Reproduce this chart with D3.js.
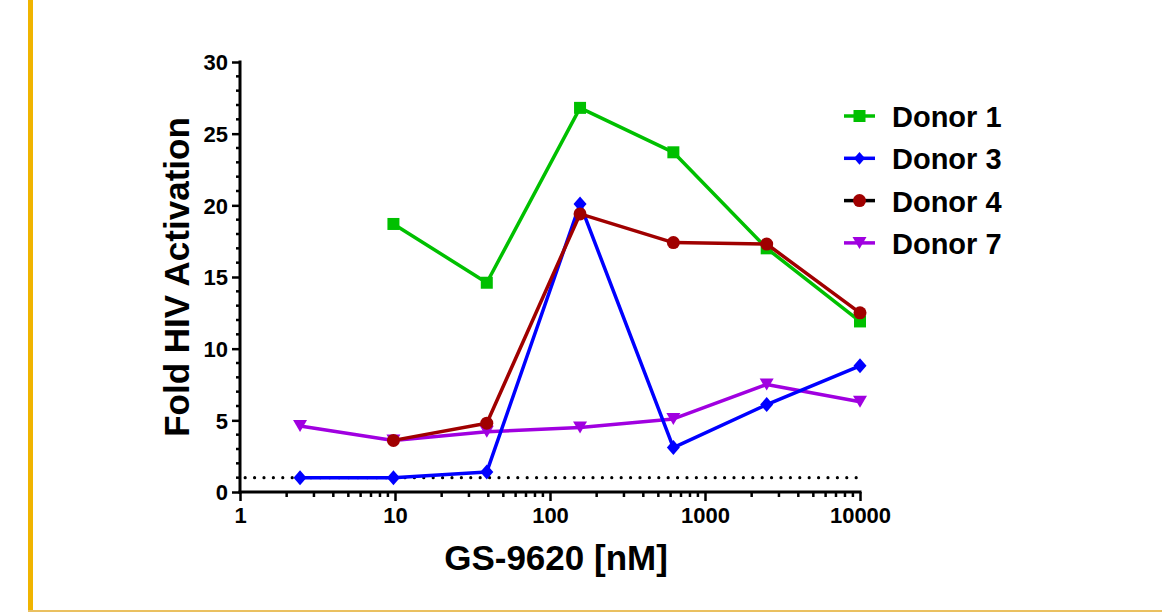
<!DOCTYPE html>
<html><head><meta charset="utf-8">
<script src="https://cdn.jsdelivr.net/npm/d3@7"></script>
<style>body{margin:0;background:#fff;}svg{display:block;font-family:"Liberation Sans",Arial,sans-serif;font-weight:bold;}</style>
</head><body><svg id="c" width="1162" height="612"></svg>
<script>
const concentrations = [2.44, 9.77, 39.1, 156.25, 625, 2500, 10000];
const donor1 = [null, 18.7, 14.6, 26.8, 23.7, 17.0, 11.9];
const donor3 = [1.0, 1.0, 1.4, 20.1, 3.1, 6.1, 8.8];
const donor4 = [null, 3.6, 4.8, 19.4, 17.4, 17.3, 12.5];
const donor7 = [4.6, 3.6, 4.2, 4.5, 5.1, 7.5, 6.3];
const seriesNames = ["Donor 1", "Donor 3", "Donor 4", "Donor 7"];
const seriesValues = [donor1, donor3, donor4, donor7];
const xTickValues = [1, 10, 100, 1000, 10000];
const yTickValues = [0, 5, 10, 15, 20, 25, 30];
const baseline = 1;

const colors = ["#00c000", "#0000ff", "#a00000", "#a000e0"];
const legendLineColors = ["#00c000", "#0000ff", "#000000", "#a000e0"];
const symbols = ["square", "diamond", "circle", "triangle"];
const FONT = '"Liberation Sans", Arial, sans-serif';

const svg = d3.select("#c");
svg.append("rect").attr("x",28).attr("y",0).attr("width",5).attr("height",612).attr("fill","#f0b400");
svg.append("rect").attr("x",28).attr("y",610).attr("width",1134).attr("height",2).attr("fill","#eac060");

const x = d3.scaleLog().domain([1,10000]).range([240,860]);
const y = d3.scaleLinear().domain([0,30]).range([492,62]);

// dotted baseline
svg.append("line").attr("x1",x(1.08)).attr("x2",x(9600)).attr("y1",y(baseline)).attr("y2",y(baseline))
  .attr("stroke","#000").attr("stroke-width",3.2).attr("stroke-linecap","round").attr("stroke-dasharray","0 9.4");

// y axis
const yAxis = d3.axisLeft(y).tickValues(yTickValues).tickSize(8).tickPadding(4);
const gy = svg.append("g").attr("transform","translate(240,0)").call(yAxis).attr("font-family",FONT);
gy.select(".domain").remove();
gy.selectAll(".tick line").attr("stroke","#000").attr("stroke-width",2.5);
gy.selectAll(".tick text").attr("font-size",22).attr("font-weight","bold").attr("font-family",FONT).attr("fill","#000").attr("dy","0.36em");
const yMinor = d3.range(0,31).filter(v=>v%5!==0);
svg.append("g").selectAll("line").data(yMinor).join("line")
  .attr("x1",236).attr("x2",240).attr("y1",d=>y(d)).attr("y2",d=>y(d)).attr("stroke","#000").attr("stroke-width",2.5);
svg.append("line").attr("x1",240).attr("x2",240).attr("y1",y(0)+1.5).attr("y2",y(30)-1.5).attr("stroke","#000").attr("stroke-width",3);

// x axis
const xAxis = d3.axisBottom(x).tickValues(xTickValues).tickFormat(d3.format("d")).tickSize(9).tickPadding(6);
const gx = svg.append("g").attr("transform","translate(0,"+y(0)+")").call(xAxis).attr("font-family",FONT);
gx.select(".domain").remove();
gx.selectAll(".tick line").attr("stroke","#000").attr("stroke-width",2.5);
gx.selectAll(".tick text").attr("font-size",22).attr("font-weight","bold").attr("font-family",FONT).attr("fill","#000");
const xMinor = [];
for (let p=1; p<10000; p*=10) for (let k=2;k<10;k++) xMinor.push(p*k);
svg.append("g").selectAll("line").data(xMinor).join("line")
  .attr("x1",d=>x(d)).attr("x2",d=>x(d)).attr("y1",y(0)).attr("y2",y(0)+5).attr("stroke","#000").attr("stroke-width",2.5);
svg.append("line").attr("x1",x(1)-1.5).attr("x2",x(10000)+1.5).attr("y1",y(0)).attr("y2",y(0)).attr("stroke","#000").attr("stroke-width",3);

// titles
svg.append("text").attr("x",556).attr("y",570).attr("text-anchor","middle").attr("font-size",35).attr("fill","#000").text("GS-9620 [nM]");
svg.append("text").attr("transform","translate(189,277) rotate(-90)").attr("text-anchor","middle").attr("font-size",35).attr("fill","#000").text("Fold HIV Activation");

function drawMarker(g, type, cx, cy, color, scale) {
  const s = scale || 1;
  if (type==="square") g.append("rect").attr("x",cx-6*s).attr("y",cy-6*s).attr("width",12*s).attr("height",12*s).attr("fill",color);
  else if (type==="diamond") g.append("path").attr("d",`M${cx},${cy-7.5*s}L${cx+6.5*s},${cy}L${cx},${cy+7.5*s}L${cx-6.5*s},${cy}Z`).attr("fill",color);
  else if (type==="circle") g.append("circle").attr("cx",cx).attr("cy",cy).attr("r",6.5*s).attr("fill",color);
  else if (type==="triangle") g.append("path").attr("d",`M${cx-7*s},${cy-6*s}L${cx+7*s},${cy-6*s}L${cx},${cy+6*s}Z`).attr("fill",color);
}

const line = d3.line().defined(d=>d[1]!=null).x(d=>x(d[0])).y(d=>y(d[1]));
const drawOrder = [3,0,1,2];
drawOrder.forEach(i=>{
  const pts = concentrations.map((c,j)=>[c, seriesValues[i][j]]);
  const g = svg.append("g");
  g.append("path").attr("d",line(pts)).attr("fill","none").attr("stroke",colors[i]).attr("stroke-width",3.5).attr("stroke-linejoin","round");
  pts.filter(p=>p[1]!=null).forEach(p=>drawMarker(g, symbols[i], x(p[0]), y(p[1]), colors[i]));
});

// legend
seriesNames.forEach((name,i)=>{
  const cy = 116 + i*42.3;
  const g = svg.append("g");
  g.append("line").attr("x1",844).attr("x2",875).attr("y1",cy).attr("y2",cy).attr("stroke",legendLineColors[i]).attr("stroke-width",3.5);
  drawMarker(g, symbols[i], 859.5, cy, colors[i], i===1?0.85:1);
  g.append("text").attr("x",892).attr("y",cy+11).attr("font-size",29).attr("fill","#000").text(name);
});
</script></body></html>
